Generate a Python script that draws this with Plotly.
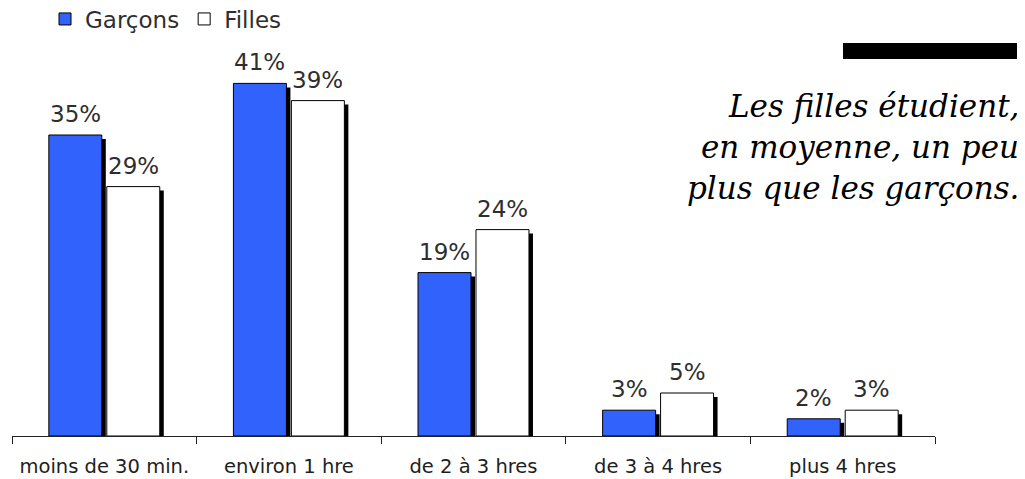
import plotly.graph_objects as go

categories = ["moins de 30 min.", "environ 1 hre", "de 2 à 3 hres", "de 3 à 4 hres", "plus 4 hres"]
garcons = [35, 41, 19, 3, 2]
filles = [29, 39, 24, 5, 3]
series_names = ["Garçons", "Filles"]
note_lines = ["Les filles étudient,", "en moyenne, un peu", "plus que les garçons."]

# page body has an 8px margin: the figure is drawn from (8, 8) on screen
OFF = 8
W, H = 1025 - OFF, 479 - OFF
# plot area in screen pixels
X0, X1, Y0, Y1 = 12, 935, 49, 436
ML, MR = X0 - OFF, W - (X1 - OFF)
MT, MB = Y0 - OFF, H - (Y1 - OFF)
PW = W - ML - MR
PH = H - MT - MB
YMAX = 45
px_per_cat = PW / len(categories)
px_per_unit = PH / YMAX
SH = 4  # shadow offset in px
dx = SH / px_per_cat
dy = SH / px_per_unit


def px_x(sx):
    return (sx - OFF - ML) / PW


def px_y(sy):
    return 1 - (sy - OFF - MT) / PH


BLUE = "#3162FC"
TXT = "#2e2e2e"

fig = go.Figure()
# shadows (base axes)
for vals in (garcons, filles):
    fig.add_trace(go.Bar(x=categories, y=vals, marker=dict(color="black", line=dict(width=0)),
                         showlegend=False, hoverinfo="skip", xaxis="x", yaxis="y"))
# main bars (overlay axes)
fig.add_trace(go.Bar(x=categories, y=garcons, name=series_names[0],
                     marker=dict(color=BLUE, line=dict(color="black", width=1)),
                     xaxis="x2", yaxis="y2"))
fig.add_trace(go.Bar(x=categories, y=filles, name=series_names[1],
                     marker=dict(color="white", line=dict(color="black", width=1)),
                     xaxis="x2", yaxis="y2"))

annotations = []
for vals, shift in ((garcons, -29), (filles, 29)):
    for c, v in zip(categories, vals):
        annotations.append(dict(x=c, y=v, xref="x2", yref="y2", text=f"{v}%", showarrow=False,
                                xanchor="center", yanchor="bottom", xshift=shift, yshift=6,
                                font=dict(family="DejaVu Sans", size=23, color=TXT)))

# note text, right aligned
line_base = [117, 158, 199]
for txt, yb in zip(note_lines, line_base):
    annotations.append(dict(x=px_x(1021), y=px_y(yb), xref="paper", yref="paper",
                            text=f"<i>{txt}</i>", showarrow=False, xanchor="right", yanchor="bottom",
                            yshift=-9,
                            font=dict(family="DejaVu Serif", size=31, color="black")))

fig.update_layout(
    width=W, height=H,
    margin=dict(l=ML, r=MR, t=MT, b=MB, autoexpand=False),
    paper_bgcolor="white", plot_bgcolor="rgba(0,0,0,0)",
    barmode="group", bargap=0.372, bargroupgap=0.086,
    showlegend=True,
    legend=dict(orientation="h", x=px_x(45), xanchor="left", y=px_y(19), yanchor="middle",
                font=dict(family="DejaVu Sans", size=23, color=TXT), bgcolor="rgba(0,0,0,0)",
                itemclick=False, traceorder="normal"),
    xaxis=dict(type="category", categoryarray=categories, range=[-0.5 - dx, len(categories) - 0.5 - dx],
               visible=False, fixedrange=True),
    yaxis=dict(range=[dy, YMAX + dy], visible=False, fixedrange=True),
    xaxis2=dict(type="category", categoryarray=categories, overlaying="x",
                range=[-0.5, len(categories) - 0.5],
                showline=True, linecolor="#222", linewidth=1, ticks="outside", tickson="boundaries",
                ticklen=7, tickcolor="#222", tickwidth=1, showgrid=False, zeroline=False,
                ticklabelstandoff=13,
                tickfont=dict(family="DejaVu Sans", size=19.5, color="#1e1e1e")),
    yaxis2=dict(range=[0, YMAX], overlaying="y", visible=False, showgrid=False, zeroline=False),
    annotations=annotations,
    shapes=[dict(type="rect", xref="paper", yref="paper",
                 x0=px_x(843), x1=px_x(1019), y0=px_y(59), y1=px_y(43),
                 fillcolor="black", line=dict(width=0))],
)

fig.write_html("out.html")
